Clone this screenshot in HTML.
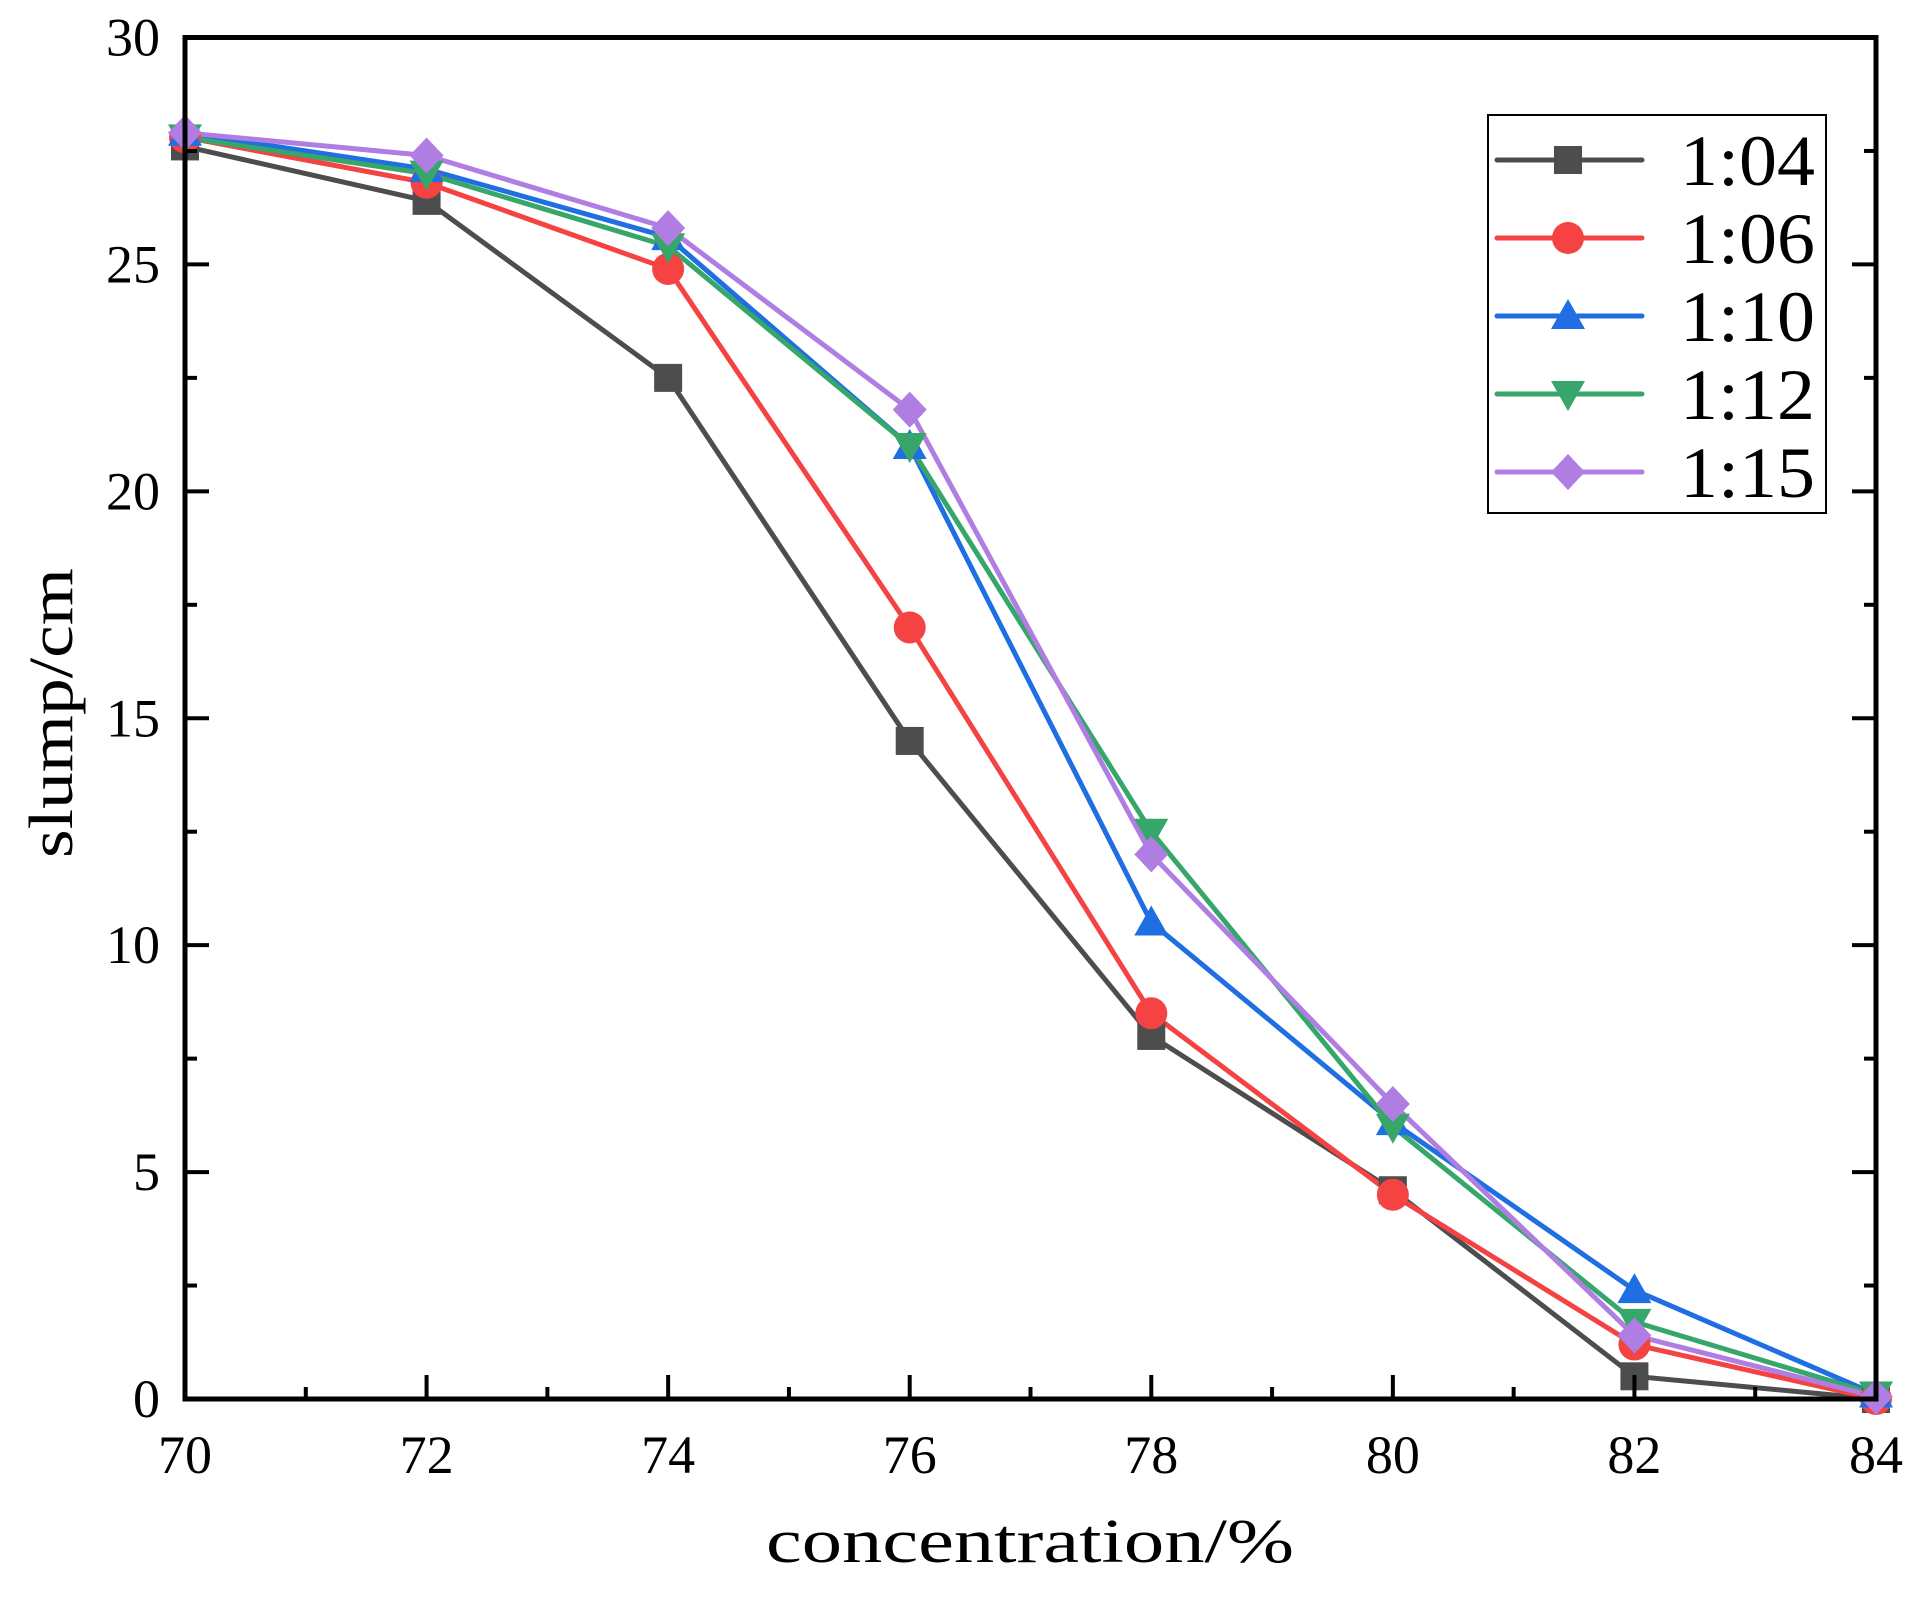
<!DOCTYPE html>
<html><head><meta charset="utf-8"><style>
html,body{margin:0;padding:0;background:#fff;}
svg{display:block;font-family:"Liberation Serif",serif;}
</style></head><body>
<svg id="chart" width="1927" height="1614" viewBox="0 0 1927 1614" xmlns="http://www.w3.org/2000/svg">
<g id="grid"></g>
<g id="series"></g>
<rect x="185" y="37.5" width="1691" height="1361.5" fill="none" stroke="#000" stroke-width="5"/>
<g id="ticks"></g>
<text x="1030" y="1562" font-size="62" text-anchor="middle" textLength="528" lengthAdjust="spacingAndGlyphs">concentration/%</text>
<text transform="translate(72,713) rotate(-90)" font-size="62" text-anchor="middle" textLength="290" lengthAdjust="spacingAndGlyphs">slump/cm</text>
<g id="legend"></g>
</svg>
<script>
const xValues = [70, 72, 74, 76, 78, 80, 82, 84];
const seriesNames = ["1:04", "1:06", "1:10", "1:12", "1:15"];
const s104 = [27.6, 26.4, 22.5, 14.5, 8.0, 4.6, 0.5, 0];
const s106 = [27.8, 26.8, 24.9, 17.0, 8.5, 4.5, 1.2, 0];
const s110 = [27.9, 27.1, 25.6, 21.0, 10.5, 6.1, 2.4, 0.1];
const s112 = [27.8, 27.0, 25.4, 21.0, 12.5, 6.0, 1.7, 0.1];
const s115 = [27.9, 27.4, 25.8, 21.8, 12.0, 6.5, 1.4, 0.05];
const xTicks = [70, 72, 74, 76, 78, 80, 82, 84];
const yTicks = [0, 5, 10, 15, 20, 25, 30];

const NS = "http://www.w3.org/2000/svg";
const X0 = 185, X1 = 1876, Y0 = 1399, Y1 = 37.5;
function xs(v){ return X0 + (v - 70) / 14 * (X1 - X0); }
function ys(v){ return Y0 - v / 30 * (Y0 - Y1); }
function mk(tag, attrs, parent){ const e = document.createElementNS(NS, tag); for (const k in attrs) e.setAttribute(k, attrs[k]); parent.appendChild(e); return e; }

const colors = ["#4d4d4d", "#f54242", "#1f6fe3", "#36a66a", "#b07ee3"];
const shapes = ["square", "circle", "up", "down", "diamond"];
const allSeries = [s104, s106, s110, s112, s115];

function marker(shape, cx, cy, color, parent){
  let e;
  if (shape === "square") e = mk("rect", {x: cx-14, y: cy-14, width: 28, height: 28, fill: color}, parent);
  else if (shape === "circle") e = mk("circle", {cx: cx, cy: cy, r: 16, fill: color}, parent);
  else if (shape === "up") e = mk("polygon", {points: `${cx},${cy-17} ${cx+17},${cy+13} ${cx-17},${cy+13}`, fill: color}, parent);
  else if (shape === "down") e = mk("polygon", {points: `${cx},${cy+17} ${cx+17},${cy-13} ${cx-17},${cy-13}`, fill: color}, parent);
  else e = mk("polygon", {points: `${cx},${cy-18} ${cx+17},${cy} ${cx},${cy+18} ${cx-17},${cy}`, fill: color}, parent);
  return e;
}

const ticks = document.getElementById("ticks");
xTicks.forEach(v => {
  const l = mk("line", {x1: xs(v), x2: xs(v), y1: Y0, y2: Y0-24, stroke: "#000", "stroke-width": 4}, ticks);
  
  
  const t = mk("text", {x: xs(v), y: Y0+74, "font-size": 54, "text-anchor": "middle"}, ticks);
  t.textContent = v;
  
  
});
for (let v = 71; v < 84; v += 2) {
  const l = mk("line", {x1: xs(v), x2: xs(v), y1: Y0, y2: Y0-12, stroke: "#000", "stroke-width": 4}, ticks);
  
  
}
yTicks.forEach(v => {
  [[X0, X0+24], [X1, X1-24]].forEach(p => {
    const l = mk("line", {x1: p[0], x2: p[1], y1: ys(v), y2: ys(v), stroke: "#000", "stroke-width": 4}, ticks);
    
    
  });
  const t = mk("text", {x: X0-25, y: ys(v)+18, "font-size": 54, "text-anchor": "end"}, ticks);
  t.textContent = v;
  
  
});
for (let v = 2.5; v < 30; v += 5) {
  [[X0, X0+12], [X1, X1-12]].forEach(p => {
    const l = mk("line", {x1: p[0], x2: p[1], y1: ys(v), y2: ys(v), stroke: "#000", "stroke-width": 4}, ticks);
    
    
  });
}

const sg = document.getElementById("series");
allSeries.forEach((vals, i) => {
  const g = mk("g", {}, sg);
  
  
  const pts = vals.map((v, j) => xs(xValues[j]) + "," + ys(v)).join(" ");
  const pl = mk("polyline", {points: pts, fill: "none", stroke: colors[i], "stroke-width": 5, "stroke-linejoin": "round"}, g);
  
  
});
allSeries.forEach((vals, i) => {
  vals.forEach((v, j) => {
    const m = marker(shapes[i], xs(xValues[j]), ys(v), colors[i], sg);
    
    
  });
});

const lg = document.getElementById("legend");
const box = mk("rect", {x: 1488, y: 115, width: 338, height: 398, fill: "#fff", stroke: "#000", "stroke-width": 2}, lg);


seriesNames.forEach((n, i) => {
  const y = 160 + i * 78;
  const g = mk("g", {}, lg);
  
  
  mk("line", {x1: 1497, x2: 1642, y1: y, y2: y, stroke: colors[i], "stroke-width": 5, "stroke-linecap": "round"}, g);
  marker(shapes[i], 1568, y, colors[i], g);
  const t = mk("text", {x: 1680, y: y + 25, "font-size": 72, textLength: 135, lengthAdjust: "spacingAndGlyphs"}, g);
  t.textContent = n;
  
  
});
</script>
</body></html>
